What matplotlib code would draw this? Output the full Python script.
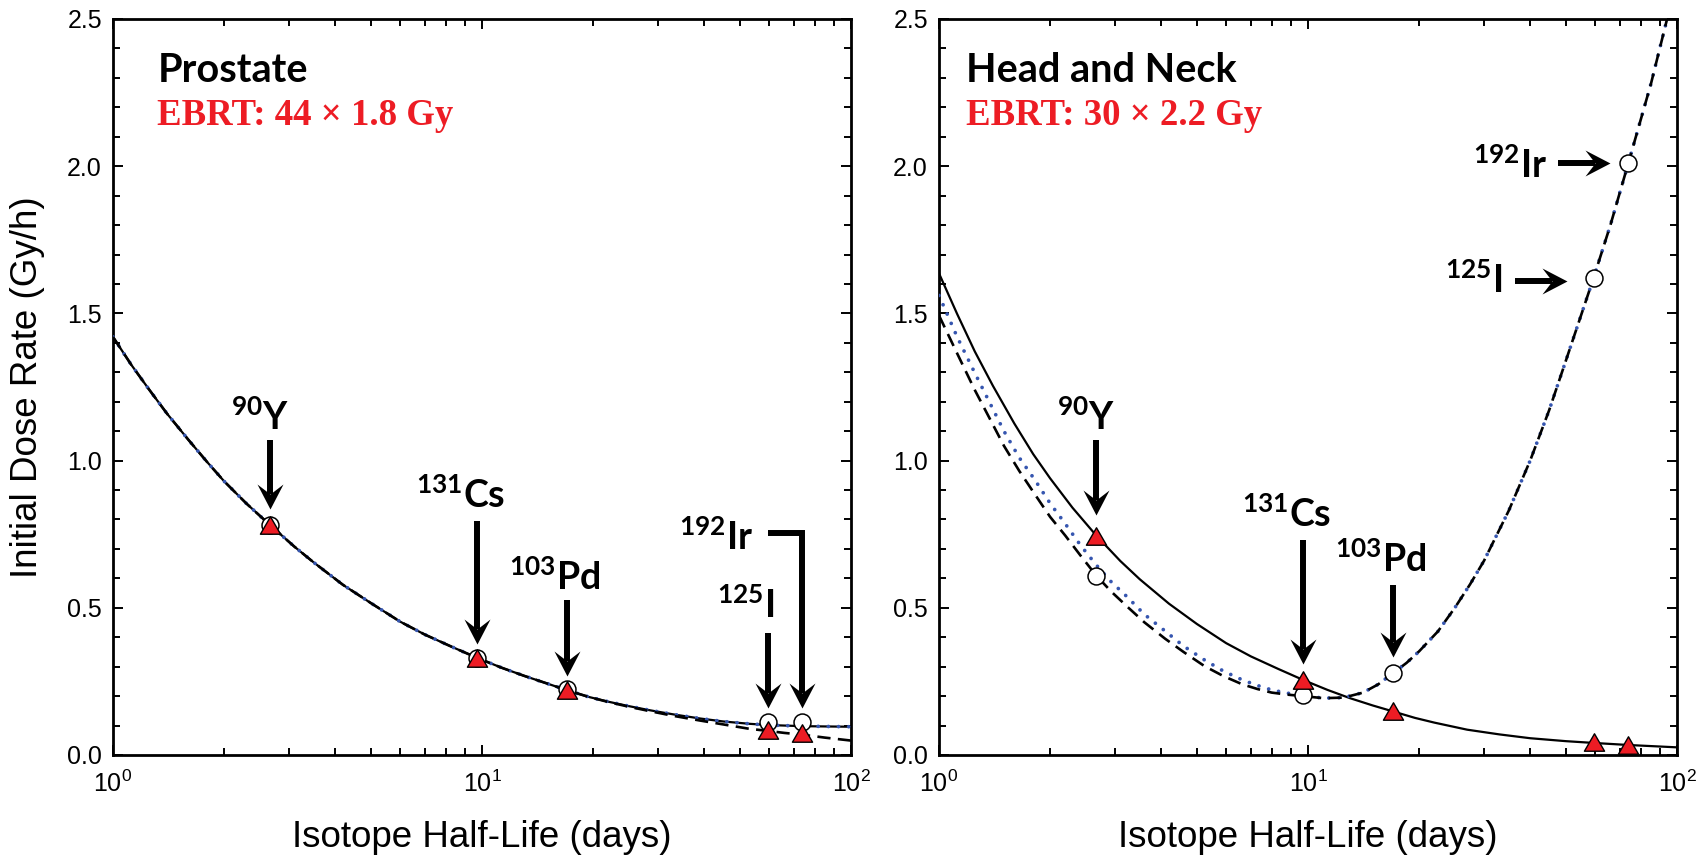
import numpy as np
import matplotlib
matplotlib.use("Agg")
import matplotlib.pyplot as plt
from matplotlib.path import Path
from matplotlib.ticker import MultipleLocator, FormatStrFormatter

plt.rcParams['font.family'] = ['Liberation Sans', 'DejaVu Sans']
plt.rcParams['mathtext.default'] = 'regular'

# ---------------- data ----------------
isotope_labels = [r'$^{90}$Y', r'$^{131}$Cs', r'$^{103}$Pd', r'$^{125}$I', r'$^{192}$Ir']
half_life = [2.67, 9.7, 17.0, 59.4, 73.8]          # days

# Prostate, EBRT 44 x 1.8 Gy
pr_x = [1, 1.12, 1.25, 1.4, 1.6, 1.8, 2, 2.3, 2.67, 3.1, 3.5, 4.2, 5, 6, 7, 8.3, 9.7,
        11.3, 13, 15, 17, 19.5, 22, 25, 28.5, 33, 39, 45, 53, 59.4, 66, 73.8, 85, 100]
pr_solid = [1.42, 1.326, 1.243, 1.160, 1.071, 0.995, 0.930, 0.854, 0.78, 0.708, 0.654,
            0.578, 0.516, 0.453, 0.409, 0.367, 0.33, 0.2965, 0.269, 0.243, 0.22, 0.197,
            0.181, 0.166, 0.152, 0.138, 0.124, 0.114, 0.106, 0.102, 0.100, 0.098, 0.097,
            0.096]
pr_dashed = [1.42, 1.326, 1.243, 1.160, 1.071, 0.995, 0.930, 0.854, 0.78, 0.708, 0.654,
             0.578, 0.516, 0.453, 0.409, 0.367, 0.33, 0.2965, 0.269, 0.243, 0.22, 0.197,
             0.180, 0.164, 0.149, 0.133, 0.117, 0.104, 0.089, 0.082, 0.075, 0.069, 0.059,
             0.049]
pr_dotted = [1.42, 1.326, 1.243, 1.160, 1.071, 0.995, 0.930, 0.854, 0.78, 0.708, 0.654,
             0.578, 0.516, 0.453, 0.409, 0.367, 0.33, 0.2965, 0.269, 0.243, 0.22, 0.197,
             0.181, 0.166, 0.152, 0.138, 0.124, 0.114, 0.106, 0.102, 0.100, 0.098, 0.097,
             0.096]
pr_triangles = [0.78, 0.33, 0.22, 0.085, 0.075]
pr_circles = [0.78, 0.33, 0.225, 0.113, 0.113]

# Head and neck, EBRT 30 x 2.2 Gy
hn_x_solid = [1, 1.12, 1.25, 1.4, 1.6, 1.8, 2, 2.3, 2.67, 3.1, 3.5, 4.2, 5, 6, 7, 8.3,
              9.7, 11.3, 13, 15, 17, 19.5, 22, 27, 33, 40, 50, 59.4, 73.8, 100]
hn_solid = [1.636, 1.498, 1.371, 1.254, 1.126, 1.022, 0.940, 0.840, 0.745, 0.659, 0.597,
            0.514, 0.445, 0.380, 0.335, 0.2925, 0.255, 0.221, 0.193, 0.168, 0.148, 0.126,
            0.110, 0.086, 0.070, 0.057, 0.047, 0.041, 0.034, 0.026]
hn_x_curve = [1, 1.12, 1.25, 1.4, 1.5, 1.65, 1.82, 2.0, 2.2, 2.42, 2.67, 2.93, 3.23, 3.6,
              4.1, 4.6, 5.24, 5.9, 6.64, 7.3, 7.97, 8.8, 9.7, 11, 12.5, 14.1, 15.5, 17,
              18.5, 20, 22.5, 25, 27.5, 30, 35, 40, 45, 50, 54.5, 59.4, 66, 73.8, 85, 94,
              100]
hn_dashed = [1.493, 1.364, 1.24, 1.122, 1.05, 0.965, 0.885, 0.809, 0.745, 0.677, 0.609,
             0.555, 0.505, 0.451, 0.395, 0.350, 0.302, 0.268, 0.240, 0.224, 0.212, 0.205,
             0.200, 0.193, 0.195, 0.212, 0.240, 0.278, 0.313, 0.352, 0.42, 0.50, 0.58,
             0.66, 0.83, 1.00, 1.17, 1.34, 1.48, 1.62, 1.80, 2.01, 2.28, 2.50, 2.64]
hn_dotted = [1.561, 1.42, 1.298, 1.175, 1.10, 1.01, 0.934, 0.855, 0.785, 0.712, 0.645,
             0.588, 0.538, 0.478, 0.421, 0.370, 0.323, 0.285, 0.255, 0.236, 0.221, 0.210,
             0.202, 0.193, 0.195, 0.212, 0.240, 0.278, 0.313, 0.352, 0.42, 0.50, 0.58,
             0.66, 0.83, 1.00, 1.17, 1.34, 1.48, 1.62, 1.80, 2.01, 2.28, 2.50, 2.64]
hn_triangles = [0.745, 0.255, 0.15, 0.043, 0.035]
hn_circles = [0.609, 0.204, 0.278, 1.62, 2.01]

RED = '#ED1C24'
BLUE = '#3656B0'

fig = plt.figure(figsize=(17.03, 8.56), dpi=100)
ax_l = fig.add_axes([113 / 1703, 101 / 856, 738 / 1703, 736 / 856])
ax_r = fig.add_axes([939 / 1703, 101 / 856, 738 / 1703, 736 / 856])

TRI = Path([[0, 0.433], [-0.5, -0.433], [0.5, -0.433], [0, 0.433]],
           [Path.MOVETO, Path.LINETO, Path.LINETO, Path.CLOSEPOLY])
HEAD_PX = 25.0


def head_marker(angle_deg):
    # barbed arrowhead, tip at the origin
    pts = np.array([[0, 0], [-1.0, 0.52], [-0.6, 0], [-1.0, -0.52], [0, 0]])
    a = np.deg2rad(angle_deg)
    rot = np.array([[np.cos(a), -np.sin(a)], [np.sin(a), np.cos(a)]])
    pts = pts @ rot.T
    return Path(pts, [Path.MOVETO, Path.LINETO, Path.LINETO, Path.LINETO, Path.CLOSEPOLY])


def arrow(ax, pts):
    disp = ax.transData.transform(np.array(pts, dtype=float))
    tip, prev = disp[-1], disp[-2]
    u = (tip - prev) / np.hypot(*(tip - prev))
    end = tip - u * HEAD_PX * 0.6
    shaft = ax.transData.inverted().transform(np.vstack([disp[:-1], end]))
    ax.plot(shaft[:, 0], shaft[:, 1], color='k', lw=4.3, solid_capstyle='butt',
            solid_joinstyle='miter', zorder=6)
    ang = np.degrees(np.arctan2(u[1], u[0]))
    ax.plot([pts[-1][0]], [pts[-1][1]], marker=head_marker(ang), ms=36, color='k',
            mew=0, linestyle='none', zorder=7)


def label(ax, text, x, y, dx=0, ha='center'):
    ax.annotate(text, xy=(x, y), xytext=(dx, 0), textcoords='offset points',
                ha=ha, va='baseline', fontsize=27, fontweight='bold',
                family=['Lato', 'DejaVu Sans'], zorder=8)


def style(ax):
    ax.set_xscale('log')
    ax.set_xlim(1, 100)
    ax.set_ylim(0, 2.5)
    ax.yaxis.set_major_locator(MultipleLocator(0.5))
    ax.yaxis.set_minor_locator(MultipleLocator(0.1))
    ax.yaxis.set_major_formatter(FormatStrFormatter('%.1f'))
    ax.tick_params(which='both', direction='in', top=True, right=True, width=1.4,
                   labelsize=18)
    ax.tick_params(which='major', length=7)
    ax.tick_params(which='minor', length=5)
    ax.tick_params(axis='y', pad=8)
    ax.tick_params(axis='x', pad=11)
    for s in ax.spines.values():
        s.set_linewidth(2.0)
    ax.set_xlabel('Isotope Half-Life (days)', fontsize=26.5)
    ax.xaxis.set_label_coords(0.5, -0.088)


def curves(ax, xs, ys_solid, xd, ys_dash, ys_dot):
    ax.plot(xs, ys_solid, color='k', lw=1.6, zorder=2)
    ax.plot(xd, ys_dot, color=BLUE, lw=2.7, linestyle=(0, (0.01, 2.7)),
            dash_capstyle='round', zorder=3)
    ax.plot(xd, ys_dash, color='k', lw=1.9, linestyle=(0, (5.0, 2.8)), zorder=4)


def markers(ax, circ, tri):
    ax.plot(half_life, circ, 'o', ms=12.2, mfc='white', mec='k', mew=1.1,
            linestyle='none', zorder=9)
    ax.plot(half_life, tri, marker=TRI, ms=14.5, mfc=RED, mec='k', mew=1.0,
            linestyle='none', zorder=10)


for ax in (ax_l, ax_r):
    style(ax)

# ---- Prostate ----
curves(ax_l, pr_x, pr_solid, pr_x, pr_dashed, pr_dotted)
markers(ax_l, pr_circles, pr_triangles)
ax_l.set_ylabel('Initial Dose Rate (Gy/h)', fontsize=26.5)
ax_l.yaxis.set_label_coords(-0.092, 0.5)
ax_l.text(0.06, 0.914, 'Prostate', transform=ax_l.transAxes, fontsize=28.5,
          fontweight='bold', family=['Lato', 'DejaVu Sans'], va='baseline')
ax_l.text(0.06, 0.856, 'EBRT: 44 × 1.8 Gy', transform=ax_l.transAxes, fontsize=26.5,
          fontweight='bold', family=['Liberation Serif', 'DejaVu Serif'], color=RED,
          va='baseline')

arrow(ax_l, [(half_life[0], 1.07), (half_life[0], 0.835)])
label(ax_l, isotope_labels[0], half_life[0], 1.104, dx=-7.5)
arrow(ax_l, [(half_life[1], 0.795), (half_life[1], 0.377)])
label(ax_l, isotope_labels[1], half_life[1], 0.84, dx=-12)
arrow(ax_l, [(half_life[2], 0.525), (half_life[2], 0.27)])
label(ax_l, isotope_labels[2], half_life[2], 0.56, dx=-8.6)
arrow(ax_l, [(half_life[3], 0.414), (half_life[3], 0.16)])
label(ax_l, isotope_labels[3], half_life[3], 0.465, dx=-16)
arrow(ax_l, [(59.6, 0.754), (half_life[4], 0.754), (half_life[4], 0.16)])
label(ax_l, isotope_labels[4], 59.6, 0.696, dx=-11, ha='right')

# ---- Head and Neck ----
curves(ax_r, hn_x_solid, hn_solid, hn_x_curve, hn_dashed, hn_dotted)
markers(ax_r, hn_circles, hn_triangles)
ax_r.text(0.037, 0.914, 'Head and Neck', transform=ax_r.transAxes, fontsize=28.5,
          fontweight='bold', family=['Lato', 'DejaVu Sans'], va='baseline')
ax_r.text(0.037, 0.856, 'EBRT: 30 × 2.2 Gy', transform=ax_r.transAxes, fontsize=26.5,
          fontweight='bold', family=['Liberation Serif', 'DejaVu Serif'], color=RED,
          va='baseline')

arrow(ax_r, [(half_life[0], 1.07), (half_life[0], 0.815)])
label(ax_r, isotope_labels[0], half_life[0], 1.104, dx=-7.5)
arrow(ax_r, [(half_life[1], 0.73), (half_life[1], 0.31)])
label(ax_r, isotope_labels[1], half_life[1], 0.774, dx=-12)
arrow(ax_r, [(half_life[2], 0.578), (half_life[2], 0.333)])
label(ax_r, isotope_labels[2], half_life[2], 0.62, dx=-8.6)
arrow(ax_r, [(36.4, 1.61), (50.35, 1.61)])
label(ax_r, isotope_labels[3], 36.4, 1.57, dx=-9, ha='right')
arrow(ax_r, [(47.6, 2.01), (65.8, 2.01)])
label(ax_r, isotope_labels[4], 47.6, 1.96, dx=-8, ha='right')

fig.savefig('out.png', dpi=100)
